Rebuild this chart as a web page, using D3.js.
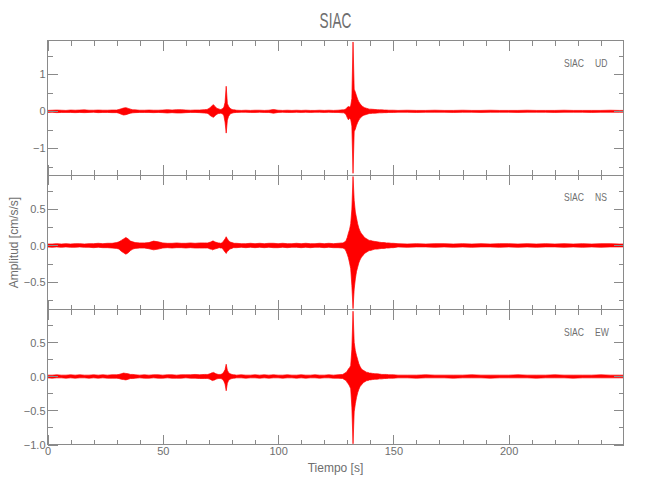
<!DOCTYPE html>
<html><head><meta charset="utf-8">
<script src="https://cdn.jsdelivr.net/npm/d3@7"></script>
<style>
body{margin:0;background:#fff}
text{font-family:"Liberation Sans",Arial,sans-serif;fill:#6e6e6e}
</style></head><body><svg id="c" width="650" height="500"></svg>
<script>
const title = "SIAC";
const station = "SIAC";
const components = ["UD", "NS", "EW"];
const xTitle = "Tiempo [s]";
const yTitle = "Amplitud [cm/s/s]";

// time samples (s) of the amplitude envelope
const times = [0,2,4,6,8,10,12,14,16,18,20,22,24,26,28,30,
  31,32,33,34,35,36,37,38,
  40,42,44,46,48,50,52,54,56,58,60,62,64,66,68,
  69,69.5,70,70.5,71,71.5,72,72.5,73,73.5,74,74.5,75,75.5,76,76.5,77,77.5,78,78.5,79,79.5,80,80.5,81,
  82,84,86,88,90,92,94,96,98,100,102,104,106,108,110,112,114,116,118,120,122,124,126,128,
  128.5,129,129.5,130,130.5,131,131.5,132,132.5,133,133.5,134,134.5,135,135.5,136,136.5,137,137.5,138,138.5,139,139.5,140,
  141,142,143,144,145,146,147,148,149,150,
  152,156,160,164,168,172,176,180,184,188,192,196,200,204,208,212,216,220,224,228,232,236,240,244,248,
  249.8];

// UD envelope (cm/s/s)
const udHi = [0.025,0.03,0.035,0.03,0.025,0.035,0.03,0.035,0.04,0.03,0.03,0.035,0.03,0.03,0.035,0.035,
  0.05,0.07,0.09,0.10,0.08,0.06,0.04,0.04,
  0.03,0.03,0.035,0.03,0.03,0.035,0.045,0.035,0.045,0.045,0.035,0.03,0.035,0.035,0.045,
  0.05,0.06,0.08,0.10,0.13,0.16,0.18,0.14,0.11,0.08,0.07,0.06,0.05,0.06,0.08,0.11,0.24,0.68,0.21,0.14,0.09,0.07,0.05,0.04,0.04,
  0.03,0.025,0.03,0.025,0.03,0.03,0.025,0.03,0.05,0.03,0.025,0.03,0.025,0.03,0.025,0.03,0.025,0.025,0.03,0.025,0.03,0.025,0.03,0.04,
  0.04,0.05,0.07,0.11,0.13,0.12,0.15,0.35,1.88,0.60,0.52,0.42,0.33,0.26,0.21,0.17,0.14,0.12,0.10,0.09,0.08,0.07,0.06,0.06,
  0.055,0.05,0.045,0.04,0.04,0.035,0.035,0.03,0.03,0.03,
  0.025,0.03,0.025,0.025,0.03,0.025,0.025,0.03,0.025,0.025,0.03,0.025,0.025,0.025,0.03,0.025,0.025,0.025,0.03,0.025,0.025,0.025,0.025,0.03,0.025,
  0.025];
const udLo = [-0.03,-0.025,-0.035,-0.03,-0.03,-0.03,-0.035,-0.03,-0.035,-0.03,-0.025,-0.035,-0.03,-0.03,-0.035,-0.035,
  -0.05,-0.08,-0.10,-0.09,-0.07,-0.05,-0.04,-0.035,
  -0.03,-0.03,-0.03,-0.035,-0.03,-0.035,-0.045,-0.035,-0.045,-0.045,-0.035,-0.03,-0.03,-0.035,-0.045,
  -0.05,-0.06,-0.08,-0.11,-0.13,-0.15,-0.16,-0.13,-0.10,-0.08,-0.06,-0.06,-0.05,-0.06,-0.07,-0.12,-0.29,-0.59,-0.24,-0.14,-0.09,-0.06,-0.05,-0.04,-0.035,
  -0.03,-0.025,-0.025,-0.03,-0.03,-0.025,-0.03,-0.03,-0.05,-0.03,-0.025,-0.03,-0.03,-0.025,-0.03,-0.025,-0.03,-0.025,-0.025,-0.03,-0.025,-0.03,-0.03,-0.04,
  -0.04,-0.06,-0.09,-0.17,-0.23,-0.19,-0.22,-0.40,-1.68,-0.55,-0.48,-0.38,-0.30,-0.24,-0.19,-0.16,-0.13,-0.11,-0.10,-0.09,-0.08,-0.07,-0.06,-0.06,
  -0.05,-0.05,-0.045,-0.04,-0.04,-0.035,-0.035,-0.03,-0.03,-0.03,
  -0.025,-0.025,-0.03,-0.025,-0.025,-0.025,-0.03,-0.025,-0.025,-0.03,-0.025,-0.025,-0.025,-0.03,-0.025,-0.025,-0.025,-0.03,-0.025,-0.025,-0.025,-0.03,-0.025,-0.025,-0.025,
  -0.025];

// NS envelope
const nsHi = [0.02,0.02,0.025,0.02,0.025,0.02,0.025,0.025,0.02,0.025,0.025,0.03,0.025,0.03,0.03,0.04,
  0.05,0.07,0.09,0.11,0.09,0.06,0.05,0.04,
  0.035,0.035,0.04,0.06,0.05,0.035,0.03,0.03,0.035,0.03,0.03,0.035,0.03,0.035,0.035,
  0.035,0.035,0.04,0.045,0.05,0.06,0.06,0.05,0.045,0.04,0.035,0.035,0.03,0.035,0.045,0.07,0.09,0.12,0.09,0.07,0.05,0.045,0.04,0.035,0.03,
  0.03,0.025,0.025,0.03,0.025,0.03,0.025,0.03,0.03,0.025,0.03,0.025,0.025,0.03,0.025,0.03,0.025,0.025,0.03,0.025,0.03,0.025,0.03,0.035,
  0.04,0.05,0.07,0.11,0.17,0.22,0.30,0.50,0.95,0.62,0.46,0.38,0.30,0.24,0.20,0.17,0.15,0.13,0.11,0.10,0.09,0.08,0.07,0.07,
  0.06,0.055,0.05,0.045,0.04,0.04,0.035,0.035,0.03,0.03,
  0.025,0.02,0.025,0.02,0.025,0.025,0.02,0.025,0.02,0.025,0.02,0.025,0.025,0.02,0.025,0.02,0.025,0.02,0.025,0.02,0.025,0.02,0.025,0.025,0.02,
  0.02];
const nsLo = [-0.02,-0.025,-0.02,-0.025,-0.02,-0.025,-0.025,-0.02,-0.025,-0.025,-0.03,-0.025,-0.03,-0.03,-0.035,-0.04,
  -0.05,-0.08,-0.10,-0.12,-0.10,-0.07,-0.05,-0.04,
  -0.035,-0.035,-0.045,-0.06,-0.05,-0.035,-0.03,-0.035,-0.03,-0.03,-0.035,-0.03,-0.035,-0.035,-0.035,
  -0.035,-0.035,-0.04,-0.05,-0.05,-0.06,-0.055,-0.05,-0.045,-0.04,-0.035,-0.03,-0.035,-0.035,-0.045,-0.07,-0.09,-0.11,-0.08,-0.07,-0.05,-0.045,-0.04,-0.03,-0.03,
  -0.03,-0.025,-0.03,-0.025,-0.03,-0.025,-0.03,-0.025,-0.03,-0.03,-0.025,-0.03,-0.025,-0.025,-0.03,-0.025,-0.03,-0.025,-0.025,-0.03,-0.025,-0.03,-0.03,-0.035,
  -0.04,-0.05,-0.08,-0.12,-0.17,-0.24,-0.32,-0.55,-0.87,-0.60,-0.46,-0.36,-0.30,-0.24,-0.20,-0.17,-0.15,-0.13,-0.11,-0.10,-0.09,-0.08,-0.07,-0.07,
  -0.06,-0.05,-0.05,-0.045,-0.04,-0.04,-0.035,-0.035,-0.03,-0.03,
  -0.02,-0.025,-0.02,-0.02,-0.025,-0.02,-0.025,-0.02,-0.025,-0.02,-0.02,-0.025,-0.02,-0.025,-0.02,-0.025,-0.02,-0.02,-0.025,-0.02,-0.025,-0.02,-0.025,-0.02,-0.02,
  -0.02];

// EW envelope
const ewHi = [0.02,0.02,0.025,0.02,0.02,0.025,0.02,0.025,0.02,0.02,0.025,0.02,0.025,0.02,0.025,0.025,
  0.03,0.04,0.05,0.045,0.04,0.03,0.03,0.025,
  0.02,0.025,0.02,0.025,0.025,0.02,0.025,0.025,0.02,0.025,0.025,0.025,0.03,0.025,0.03,
  0.03,0.03,0.035,0.04,0.05,0.055,0.06,0.05,0.04,0.035,0.03,0.03,0.03,0.035,0.045,0.07,0.10,0.18,0.09,0.06,0.045,0.035,0.03,0.025,0.025,
  0.02,0.025,0.02,0.02,0.025,0.02,0.025,0.02,0.025,0.02,0.02,0.025,0.02,0.02,0.025,0.02,0.02,0.025,0.02,0.02,0.025,0.02,0.025,0.03,
  0.04,0.05,0.06,0.08,0.11,0.13,0.16,0.40,0.96,0.50,0.38,0.31,0.25,0.19,0.15,0.12,0.10,0.09,0.08,0.07,0.06,0.06,0.05,0.05,
  0.045,0.04,0.04,0.035,0.03,0.03,0.03,0.025,0.025,0.025,
  0.02,0.02,0.02,0.025,0.02,0.02,0.02,0.02,0.025,0.02,0.02,0.02,0.02,0.025,0.02,0.02,0.02,0.025,0.02,0.02,0.02,0.02,0.025,0.02,0.02,
  0.02];
const ewLo = [-0.02,-0.025,-0.02,-0.02,-0.025,-0.02,-0.025,-0.02,-0.02,-0.025,-0.02,-0.025,-0.02,-0.025,-0.025,-0.025,
  -0.03,-0.04,-0.045,-0.05,-0.04,-0.03,-0.03,-0.025,
  -0.02,-0.025,-0.025,-0.02,-0.025,-0.025,-0.02,-0.025,-0.025,-0.025,-0.02,-0.025,-0.025,-0.03,-0.03,
  -0.03,-0.03,-0.035,-0.04,-0.05,-0.06,-0.055,-0.05,-0.04,-0.035,-0.03,-0.03,-0.03,-0.035,-0.045,-0.07,-0.11,-0.21,-0.10,-0.06,-0.045,-0.035,-0.03,-0.025,-0.025,
  -0.02,-0.02,-0.025,-0.02,-0.02,-0.025,-0.02,-0.025,-0.02,-0.02,-0.025,-0.02,-0.02,-0.025,-0.02,-0.025,-0.02,-0.02,-0.025,-0.02,-0.02,-0.025,-0.025,-0.03,
  -0.04,-0.05,-0.06,-0.09,-0.11,-0.14,-0.18,-0.45,-0.99,-0.52,-0.40,-0.31,-0.24,-0.19,-0.15,-0.13,-0.11,-0.09,-0.08,-0.07,-0.06,-0.06,-0.05,-0.05,
  -0.045,-0.04,-0.04,-0.035,-0.035,-0.03,-0.03,-0.025,-0.025,-0.025,
  -0.02,-0.02,-0.025,-0.02,-0.02,-0.02,-0.025,-0.02,-0.02,-0.02,-0.025,-0.02,-0.02,-0.02,-0.02,-0.025,-0.02,-0.02,-0.02,-0.025,-0.02,-0.02,-0.02,-0.02,-0.02,
  -0.02];

const xDomain = [0, 249.8];
const xMajor = [0, 50, 100, 150, 200];
const xMinor = [10,20,30,40,60,70,80,90,110,120,130,140,160,170,180,190,210,220,230,240];
const yDomains = [[-1.73, 1.92], [-0.886, 0.968], [-1.0, 0.98]];
const yMajor = [[-1, 0, 1], [-0.5, 0, 0.5], [-1.0, -0.5, 0, 0.5]];
const yMinor = [[-1.5, -0.5, 0.5, 1.5], [-0.75, -0.25, 0.25, 0.75], [-0.75, -0.25, 0.25, 0.75]];
const yFormats = ["d", ".1f", ".1f"];

const series = [[udHi, udLo], [nsHi, nsLo], [ewHi, ewLo]];

// ---- layout ----
const svg = d3.select("#c");
const L = 47.5, R = 623.5, T = 40.5, B = 444.5;
const ph = (B - T) / 3;
const axisColor = "#8a8a8a";
const textColor = "#707070";

const x = d3.scaleLinear().domain(xDomain).range([L, R]);

svg.append("text").attr("transform", `translate(${(L + R) / 2},28) scale(0.62,1)`)
  .attr("text-anchor", "middle").style("font-size", "22px").text(title);

series.forEach((s, i) => {
  const top = T + i * ph, bot = top + ph;
  const y = d3.scaleLinear().domain(yDomains[i]).range([bot, top]);
  const cid = "clip" + i;
  svg.append("clipPath").attr("id", cid).append("rect")
    .attr("x", L).attr("y", top).attr("width", R - L).attr("height", ph);
  const rows = times.map((t, k) => ({t, hi: s[0][k], lo: s[1][k]}));
  const area = d3.area().x(d => x(d.t)).y0(d => y(d.lo)).y1(d => y(d.hi));
  svg.append("path").datum(rows).attr("clip-path", `url(#${cid})`)
    .attr("d", area).attr("fill", "#ff0000").attr("stroke", "#ff0000").attr("stroke-width", 0.7);

  const styleAxis = (sel) => {
    sel.select(".domain").remove();
    sel.selectAll("line").attr("stroke", axisColor).attr("shape-rendering", "crispEdges");
    sel.selectAll("text").style("font-size", "11px").attr("fill", textColor)
      .style("font-family", '"Liberation Sans",Arial,sans-serif');
  };
  const fmt = d3.format(yFormats[i]);
  svg.append("g").attr("transform", `translate(${L},0)`)
    .call(d3.axisLeft(y).tickValues(yMajor[i]).tickSize(-10).tickPadding(2).tickFormat(fmt)).call(styleAxis);
  svg.append("g").attr("transform", `translate(${L},0)`)
    .call(d3.axisLeft(y).tickValues(yMinor[i]).tickSize(-5).tickFormat("")).call(styleAxis);
  svg.append("g").attr("transform", `translate(${R},0)`)
    .call(d3.axisRight(y).tickValues(yMajor[i]).tickSize(-10).tickFormat("")).call(styleAxis);
  svg.append("g").attr("transform", `translate(${R},0)`)
    .call(d3.axisRight(y).tickValues(yMinor[i]).tickSize(-5).tickFormat("")).call(styleAxis);
  svg.append("g").attr("transform", `translate(0,${top})`)
    .call(d3.axisTop(x).tickValues(xMajor).tickSize(-10).tickFormat("")).call(styleAxis);
  svg.append("g").attr("transform", `translate(0,${top})`)
    .call(d3.axisTop(x).tickValues(xMinor).tickSize(-5).tickFormat("")).call(styleAxis);
  svg.append("g").attr("transform", `translate(0,${bot})`)
    .call(d3.axisBottom(x).tickValues(xMajor).tickSize(-10).tickPadding(3)
      .tickFormat(i === 2 ? d3.format("d") : "")).call(styleAxis);
  svg.append("g").attr("transform", `translate(0,${bot})`)
    .call(d3.axisBottom(x).tickValues(xMinor).tickSize(-5).tickFormat("")).call(styleAxis);
  svg.append("rect").attr("x", L).attr("y", top).attr("width", R - L).attr("height", ph)
    .attr("fill", "none").attr("stroke", axisColor).attr("shape-rendering", "crispEdges");
  // component label
  const lab = svg.append("text").attr("transform", `translate(564,${top + 26}) scale(0.78,1)`)
    .style("font-size", "11px");
  lab.append("tspan").attr("x", 0).text(station);
  lab.append("tspan").attr("x", 31 / 0.78).text(components[i]);
});

svg.append("text").attr("x", (L + R) / 2).attr("y", 472).attr("text-anchor", "middle")
  .style("font-size", "12px").text(xTitle);
svg.append("text").attr("transform", `translate(18,${(T + B) / 2}) rotate(-90)`)
  .attr("text-anchor", "middle").style("font-size", "12px").text(yTitle);
</script></body></html>
